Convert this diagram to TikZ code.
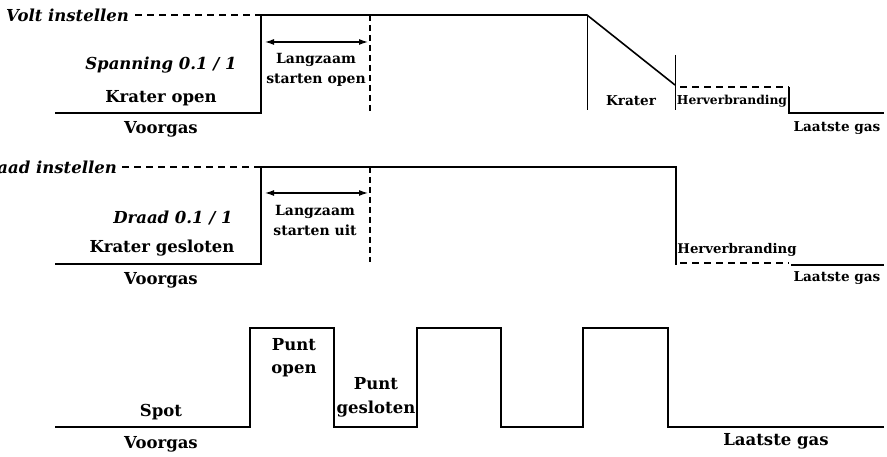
\documentclass[tikz,border=0pt]{standalone}
\usepackage{fontspec}
\setmainfont{DejaVu Serif}
\usetikzlibrary{arrows.meta}

\begin{document}
\begin{tikzpicture}[x=1pt,y=-1pt,
    lbl/.style={font=\bfseries\fontsize{16.5}{20}\selectfont,inner sep=0pt,align=center},
    ilbl/.style={font=\bfseries\itshape\fontsize{16.5}{20}\selectfont,inner sep=0pt},
    sml/.style={font=\bfseries\fontsize{14}{20}\selectfont,inner sep=0pt,align=center},
    rlbl/.style={font=\bfseries\fontsize{13.6}{16}\selectfont,inner sep=0pt},
    sig/.style={line width=1.6pt,line join=miter},
    thin/.style={line width=0.8pt},
    dsh/.style={line width=1.4pt,dash pattern=on 7pt off 5pt},
    vdsh/.style={line width=1.4pt,dash pattern=on 6pt off 4pt},
    span/.style={line width=1.2pt,{Latex[length=9pt,width=6pt]}-{Latex[length=9pt,width=6pt]}}]
  \useasboundingbox (0,0) rectangle (887,457);
  % row 1: volt
  \node[ilbl, anchor=west] (volt) at (6,15) {Volt instellen};
  \draw[dsh] (volt.east) ++(6,0) -- (260,15);
  \draw[sig] (55,113) -- (261,113) -- (261,15) -- (587,15) -- (675,85);
  \draw[thin] (587,15) -- (587,110);
  \draw[thin] (675,55) -- (675,110);
  \draw[dsh] (680,87) -- (789,87);
  \draw[sig] (789,87) -- (789,113) -- (884,113);
  \draw[vdsh] (370,15) -- (370,112);
  \coordinate (a1) at (265,42);
  \coordinate (b1) at (368,42);
  \draw[span] (a1) -- (b1);
  \node[ilbl] (span1) at (161,65) {Spanning 0.1 / 1};
  \node[lbl] (kopen) at (161,98) {Krater open};
  \node[lbl] (vg1) at (161,129) {Voorgas};
  \node[sml] (lso) at (316,70) {Langzaam\\starten open};
  \node[rlbl] (krat) at (631,101) {Krater};
  \node[rlbl, font=\bfseries\fontsize{12.3}{14}\selectfont] (hv1) at (732,101) {Herverbranding};
  \node[rlbl] (lg1) at (837,128) {Laatste gas};
  % row 2: draad
  \node[ilbl, anchor=east] (draad) at (117,167) {Draad instellen};
  \draw[dsh] (122,167) -- (260,167);
  \draw[sig] (55,264) -- (261,264) -- (261,167) -- (676,167) -- (676,265);
  \draw[dsh] (680,263) -- (789,263);
  \draw[sig] (791,265) -- (884,265);
  \draw[vdsh] (370,167) -- (370,262);
  \coordinate (a2) at (265,193);
  \coordinate (b2) at (368,193);
  \draw[span] (a2) -- (b2);
  \node[ilbl] (dr1) at (173,218) {Draad 0.1 / 1};
  \node[lbl] (kgesl) at (162,248) {Krater gesloten};
  \node[lbl] (vg2) at (161,280) {Voorgas};
  \node[sml] (lsu) at (315,220) {Langzaam\\starten uit};
  \node[rlbl, font=\bfseries\fontsize{13.3}{16}\selectfont] (hv2) at (737,250) {Herverbranding};
  \node[rlbl] (lg2) at (837,278) {Laatste gas};
  % row 3: spot
  \draw[sig] (55,427) -- (250,427) -- (250,328) -- (334,328) -- (334,427)
    -- (417,427) -- (417,328) -- (501,328) -- (501,427)
    -- (583,427) -- (583,328) -- (668,328) -- (668,427) -- (884,427);
  \node[lbl] (spot) at (161,412) {Spot};
  \node[lbl] (vg3) at (161,444) {Voorgas};
  \node[lbl, font=\bfseries\fontsize{16.5}{23}\selectfont] (popen) at (294,358) {Punt\\open};
  \node[lbl, font=\bfseries\fontsize{16.5}{24}\selectfont] (pgesl) at (376,397) {Punt\\gesloten};
  \node[lbl] (lg3) at (776,441) {Laatste gas};
\end{tikzpicture}
\end{document}
